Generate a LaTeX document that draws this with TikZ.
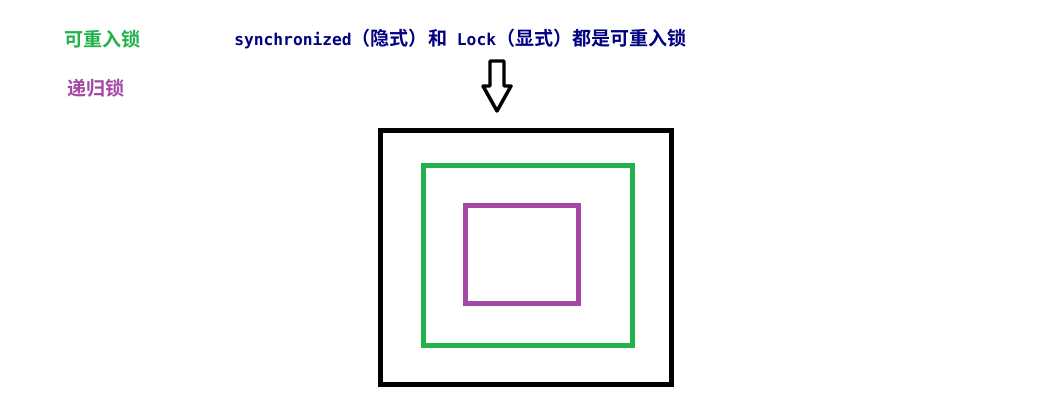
\documentclass[tikz,border=0pt]{standalone}
\usepackage{fontspec}
\newfontfamily\cjk{Noto Sans CJK SC Bold}
\newfontfamily\mono{DejaVu Sans Mono Bold}
\usepackage{tikz}
\definecolor{lockgreen}{RGB}{34,177,76}
\definecolor{lockpurple}{RGB}{163,73,164}
\definecolor{locknavy}{RGB}{0,0,128}
\tikzset{
    label/.style={anchor=west, inner sep=0pt, font=\cjk\fontsize{14.3}{14}\selectfont},
    frame/.style={line width=3.75pt}
}

\begin{document}
\begin{tikzpicture}[x=0.75pt,y=-0.75pt]
        \useasboundingbox (0,0) rectangle (1042,407);
        
        \node[label, text=lockgreen] (reentrant) at (64,39) {可重入锁};
        \node[label, text=lockpurple] (recursive) at (67,88) {递归锁};
        \node[label, text=locknavy] (title) at (234,39) {{\mono\fontsize{12.2}{12}\selectfont synchronized}（隐式）和{\mono\fontsize{12.2}{12}\selectfont\ Lock}（显式）都是可重入锁};
        
        \draw[line width=2.6pt, line join=round, fill=white] (490,61) -- (504,61) -- (504,86) -- (511,86) -- (497,111) -- (483,86) -- (490,86) -- cycle;
        
        \draw[frame, black] (380.5,130.5) rectangle (671.5,384.5);
        \draw[frame, lockgreen] (423.5,165.5) rectangle (632.5,345.5);
        \draw[frame, lockpurple] (465.5,205.5) rectangle (578.5,303.5);
        
    \end{tikzpicture}
\end{document}
